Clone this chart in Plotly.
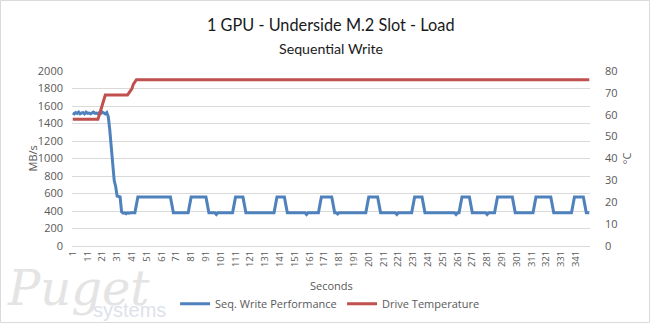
import plotly.graph_objects as go

# Per-second samples of the run (1 .. 350 s)
seconds = list(range(1, 351))

# Sequential write throughput, MB/s
seq_write_mbps = [
    1520, 1510, 1525, 1515, 1530, 1510, 1520, 1525, 1510, 1530, 1515, 1520, 1510, 1525, 1530, 1515, 1520, 1510, 1525, 1515, 1530, 1520, 1510, 1525, 1480,
    1330, 1100, 880, 750, 680, 570, 565, 560, 390, 375, 380, 370, 380, 375, 380, 380, 375, 380, 470, 560, 560, 560, 560, 560, 560,
    560, 560, 560, 560, 560, 560, 560, 560, 560, 560, 560, 560, 560, 560, 560, 560, 560, 470, 380, 380, 380, 380, 380, 380, 380,
    380, 380, 380, 380, 470, 560, 560, 560, 560, 560, 560, 560, 560, 560, 560, 560, 470, 380, 380, 380, 380, 380, 360, 380, 380,
    380, 380, 380, 380, 380, 380, 380, 380, 380, 470, 560, 560, 560, 560, 560, 560, 470, 380, 380, 380, 380, 380, 380, 380, 380,
    380, 380, 380, 380, 380, 380, 380, 380, 380, 380, 380, 380, 470, 560, 560, 560, 560, 560, 560, 470, 380, 380, 380, 380, 380,
    380, 380, 380, 380, 380, 380, 380, 380, 360, 380, 380, 380, 380, 380, 380, 380, 380, 470, 560, 560, 560, 560, 560, 560, 560,
    560, 470, 380, 380, 365, 380, 380, 380, 380, 380, 380, 380, 380, 380, 380, 380, 380, 380, 380, 380, 380, 380, 380, 380, 470,
    560, 560, 560, 560, 560, 560, 560, 470, 380, 380, 380, 380, 380, 380, 380, 380, 380, 380, 380, 360, 380, 380, 380, 380, 380,
    380, 380, 380, 380, 380, 470, 560, 560, 560, 560, 560, 560, 470, 380, 380, 380, 380, 380, 380, 380, 380, 380, 380, 380, 380,
    380, 380, 380, 380, 380, 380, 380, 380, 380, 360, 380, 380, 470, 560, 560, 560, 560, 560, 560, 470, 380, 380, 380, 380, 380,
    380, 380, 380, 380, 380, 360, 380, 380, 380, 380, 380, 470, 560, 560, 560, 560, 560, 560, 560, 560, 560, 560, 560, 470, 380,
    380, 380, 380, 380, 380, 380, 380, 380, 380, 380, 380, 380, 470, 560, 560, 560, 560, 560, 560, 560, 560, 560, 560, 560, 470,
    380, 380, 380, 380, 380, 380, 380, 380, 380, 380, 380, 380, 380, 470, 560, 560, 560, 560, 560, 560, 560, 470, 380, 380, 380,
]

# Drive temperature, °C
drive_temp_c = [
    58, 58, 58, 58, 58, 58, 58, 58, 58, 58, 58, 58, 58, 58, 58, 58, 58, 58, 60, 62, 64, 67, 69, 69, 69,
    69, 69, 69, 69, 69, 69, 69, 69, 69, 69, 69, 69, 69, 70, 71, 72, 74, 75, 76, 76, 76, 76, 76, 76, 76,
    76, 76, 76, 76, 76, 76, 76, 76, 76, 76, 76, 76, 76, 76, 76, 76, 76, 76, 76, 76, 76, 76, 76, 76, 76,
    76, 76, 76, 76, 76, 76, 76, 76, 76, 76, 76, 76, 76, 76, 76, 76, 76, 76, 76, 76, 76, 76, 76, 76, 76,
    76, 76, 76, 76, 76, 76, 76, 76, 76, 76, 76, 76, 76, 76, 76, 76, 76, 76, 76, 76, 76, 76, 76, 76, 76,
    76, 76, 76, 76, 76, 76, 76, 76, 76, 76, 76, 76, 76, 76, 76, 76, 76, 76, 76, 76, 76, 76, 76, 76, 76,
    76, 76, 76, 76, 76, 76, 76, 76, 76, 76, 76, 76, 76, 76, 76, 76, 76, 76, 76, 76, 76, 76, 76, 76, 76,
    76, 76, 76, 76, 76, 76, 76, 76, 76, 76, 76, 76, 76, 76, 76, 76, 76, 76, 76, 76, 76, 76, 76, 76, 76,
    76, 76, 76, 76, 76, 76, 76, 76, 76, 76, 76, 76, 76, 76, 76, 76, 76, 76, 76, 76, 76, 76, 76, 76, 76,
    76, 76, 76, 76, 76, 76, 76, 76, 76, 76, 76, 76, 76, 76, 76, 76, 76, 76, 76, 76, 76, 76, 76, 76, 76,
    76, 76, 76, 76, 76, 76, 76, 76, 76, 76, 76, 76, 76, 76, 76, 76, 76, 76, 76, 76, 76, 76, 76, 76, 76,
    76, 76, 76, 76, 76, 76, 76, 76, 76, 76, 76, 76, 76, 76, 76, 76, 76, 76, 76, 76, 76, 76, 76, 76, 76,
    76, 76, 76, 76, 76, 76, 76, 76, 76, 76, 76, 76, 76, 76, 76, 76, 76, 76, 76, 76, 76, 76, 76, 76, 76,
    76, 76, 76, 76, 76, 76, 76, 76, 76, 76, 76, 76, 76, 76, 76, 76, 76, 76, 76, 76, 76, 76, 76, 76, 76,
]

assert len(seq_write_mbps) == len(seconds) == len(drive_temp_c)

# Category labels shown on the time axis
x_tick_vals = [1, 11, 21, 31, 41, 51, 61, 71, 81, 91, 101, 111, 121, 131, 141, 151, 161, 171,
               181, 191, 201, 211, 221, 231, 241, 251, 261, 271, 281, 291, 301, 311, 321, 331, 341]
x_tick_text = [str(v) for v in x_tick_vals]

FONT = "Open Sans"
TITLE_FONT = "Lato"
TXT = "#595959"
GRID = "#d9d9d9"

# Two-line company mark: a small base size keeps the lines tightly stacked
logo_text = (
    "<i><span style='font-size:48px;color:#e4e4e4;font-family:DejaVu Serif'>Puget</span></i>"
    "<span style='font-size:20px'>\u00a0\u00a0\u00a0</span>"
    "<br><span style='font-size:20px'>systems</span>"
)

fig = go.Figure()
fig.add_trace(go.Scatter(
    x=seconds, y=seq_write_mbps, name="Seq. Write Performance",
    mode="lines", line=dict(color="#4f81bd", width=3), yaxis="y",
))
fig.add_trace(go.Scatter(
    x=seconds, y=drive_temp_c, name="Drive Temperature",
    mode="lines", line=dict(color="#c0504d", width=3), yaxis="y2",
))

fig.update_layout(
    width=650, height=323,
    margin=dict(l=72, r=60, t=71, b=77, autoexpand=False),
    paper_bgcolor="white", plot_bgcolor="white",
    font=dict(family=FONT, color=TXT, size=11),
    showlegend=True,
    legend=dict(orientation="h", x=0.199, xanchor="left", y=-0.33, yanchor="middle",
                font=dict(size=11, color=TXT), itemwidth=30, entrywidth=122,
                bgcolor="rgba(0,0,0,0)"),
    xaxis=dict(range=[0.5, 350.5], tickmode="array", tickvals=x_tick_vals, ticktext=x_tick_text,
               tickangle=-90, tickfont=dict(size=9.5, color=TXT), showgrid=False, zeroline=False,
               showline=True, linecolor=GRID, linewidth=1, ticks=""),
    yaxis=dict(range=[0, 2000], dtick=200, showgrid=True, gridcolor=GRID, gridwidth=1,
               zeroline=False, showline=False, ticks="", tickfont=dict(size=11, color=TXT),
               ticklabelstandoff=8),
    yaxis2=dict(range=[0, 80], dtick=10, overlaying="y", side="right", showgrid=False,
                zeroline=False, showline=False, ticks="", tickfont=dict(size=11, color=TXT),
                ticklabelstandoff=14),
    annotations=[
        dict(text="1 GPU - Underside M.2 Slot - Load", xref="paper", yref="paper",
             x=0.5, y=1.263, xanchor="center", yanchor="middle", showarrow=False,
             font=dict(size=16.3, color="#1a1a1a", family=TITLE_FONT)),
        dict(text="Sequential Write", xref="paper", yref="paper",
             x=0.5, y=1.131, xanchor="center", yanchor="middle", showarrow=False,
             font=dict(size=14.2, color="#1a1a1a", family=TITLE_FONT)),
        dict(text="Seconds", xref="paper", yref="paper",
             x=0.5, y=-0.228, xanchor="center", yanchor="middle", showarrow=False,
             font=dict(size=11, color=TXT, family=FONT)),
        dict(text="MB/s", xref="paper", yref="paper", textangle=-90,
             x=-0.0753, y=0.5, xanchor="center", yanchor="middle", showarrow=False,
             font=dict(size=11, color=TXT, family=FONT)),
        dict(text="°C", xref="paper", yref="paper", textangle=-90,
             x=1.071, y=0.5, xanchor="center", yanchor="middle", showarrow=False,
             font=dict(size=11, color=TXT, family=FONT)),
        dict(text=logo_text, xref="paper", yref="paper", align="right",
             x=0.185, y=-0.44, xanchor="right", yanchor="bottom", showarrow=False,
             font=dict(size=9, color="#dde2ea", family="Liberation Sans")),
    ],
    shapes=[
        dict(type="rect", xref="paper", yref="paper", x0=-0.138, x1=1.115, y0=-0.437, y1=1.403,
             line=dict(color=GRID, width=1), fillcolor="rgba(0,0,0,0)", layer="below"),
    ],
)

fig.write_html("out.html")
